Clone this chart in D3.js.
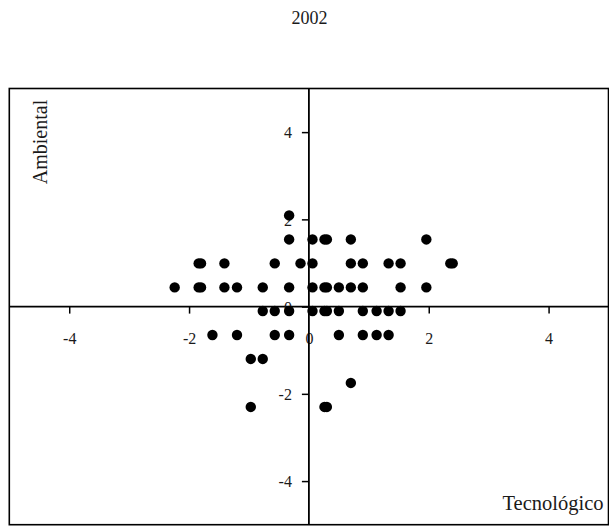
<!DOCTYPE html>
<html>
<head>
<meta charset="utf-8">
<script src="https://cdn.jsdelivr.net/npm/d3@7"></script>
<style>
  html, body { margin: 0; padding: 0; background: #fff; }
  svg { display: block; }
  text { font-family: "Liberation Serif", "Times New Roman", serif; fill: #1a1a1a; }
</style>
</head>
<body>
<svg id="chart" width="609" height="526"></svg>
<script>
// Scores per observation: technological (x) and environmental (y) factors
const tecnologico = [
  -0.33,
  -0.33, 0.06, 0.26, 0.30, 0.70, 1.96,
  -1.84, -1.80, -1.41, -0.57, -0.14, 0.06, 0.70, 0.90, 1.33, 1.53, 2.36, 2.40,
  -2.24, -1.84, -1.80, -1.41, -1.20, -0.77, -0.33, 0.06, 0.26, 0.30, 0.50, 0.70, 0.90, 1.53, 1.96,
  -0.77, -0.57, -0.33, 0.06, 0.26, 0.30, 0.50, 0.90, 1.13, 1.33, 1.53,
  -1.61, -1.20, -0.57, -0.33, 0.50, 0.90, 1.13, 1.33,
  -0.97, -0.77,
  0.70,
  -0.97, 0.26, 0.30
];
const ambiental = [
  2.09,
  1.54, 1.54, 1.54, 1.54, 1.54, 1.54,
  0.99, 0.99, 0.99, 0.99, 0.99, 0.99, 0.99, 0.99, 0.99, 0.99, 0.99, 0.99,
  0.44, 0.44, 0.44, 0.44, 0.44, 0.44, 0.44, 0.44, 0.44, 0.44, 0.44, 0.44, 0.44, 0.44, 0.44,
  -0.10, -0.10, -0.10, -0.10, -0.10, -0.10, -0.10, -0.10, -0.10, -0.10, -0.10,
  -0.65, -0.65, -0.65, -0.65, -0.65, -0.65, -0.65, -0.65,
  -1.20, -1.20,
  -1.75,
  -2.30, -2.30, -2.30
];
const xTicks = [-4, -2, 0, 2, 4];
const yTicks = [-4, -2, 0, 2, 4];
const title = "2002";
const xTitle = "Tecnológico";
const yTitle = "Ambiental";

const svg = d3.select("#chart");

const x = d3.scaleLinear().domain([-5, 5]).range([9.3, 608.5]);
const y = d3.scaleLinear().domain([-5, 5]).range([524.7, 88.5]);

// Title
svg.append("text")
  .attr("x", 309.5).attr("y", 24)
  .attr("text-anchor", "middle")
  .style("font-size", "18px")
  .text(title);

// Plot frame
svg.append("rect")
  .attr("x", x(-5)).attr("y", y(5))
  .attr("width", x(5) - x(-5)).attr("height", y(-5) - y(5))
  .attr("fill", "none").attr("stroke", "#000").attr("stroke-width", 1.6);

// Crossing axes through the origin
const xAxis = d3.axisBottom(x).tickValues(xTicks).tickSize(7).tickPadding(19)
  .tickFormat(d3.format("d"));
const yAxis = d3.axisLeft(y).tickValues(yTicks).tickSize(7).tickPadding(10)
  .tickFormat(d3.format("d"));

const gx = svg.append("g").attr("transform", `translate(0,${y(0)})`).call(xAxis);
const gy = svg.append("g").attr("transform", `translate(${x(0)},0)`).call(yAxis);

[gx, gy].forEach(g => {
  g.attr("font-family", null).attr("font-size", null);
  g.select(".domain").attr("stroke", "#000").attr("stroke-width", 1.8);
  g.selectAll(".tick line").attr("stroke", "#000").attr("stroke-width", 1.5);
  g.selectAll(".tick text")
    .style("font-family", "'Liberation Serif', 'Times New Roman', serif")
    .style("font-size", "16px")
    .attr("fill", "#1a1a1a");
});
gx.selectAll(".tick text").text(d => d < 0 ? "-" + Math.abs(d) : d);
gy.selectAll(".tick text").text(d => d < 0 ? "-" + Math.abs(d) : d).attr("dy", "0.36em");
gx.select(".domain").attr("d", `M${x(-5)},0H${x(5)}`);
gy.select(".domain").attr("d", `M0,${y(5)}V${y(-5)}`);

// Axis titles
svg.append("text")
  .attr("transform", `translate(47,142) rotate(-90)`)
  .attr("text-anchor", "middle")
  .style("font-size", "20px")
  .text(yTitle);

svg.append("text")
  .attr("x", 603.5).attr("y", 510)
  .attr("text-anchor", "end")
  .style("font-size", "20.5px")
  .text(xTitle);

// Points
svg.append("g")
  .selectAll("circle")
  .data(d3.range(tecnologico.length))
  .join("circle")
  .attr("cx", i => x(tecnologico[i]))
  .attr("cy", i => y(ambiental[i]))
  .attr("r", 5.2)
  .attr("fill", "#000");
</script>
</body>
</html>
